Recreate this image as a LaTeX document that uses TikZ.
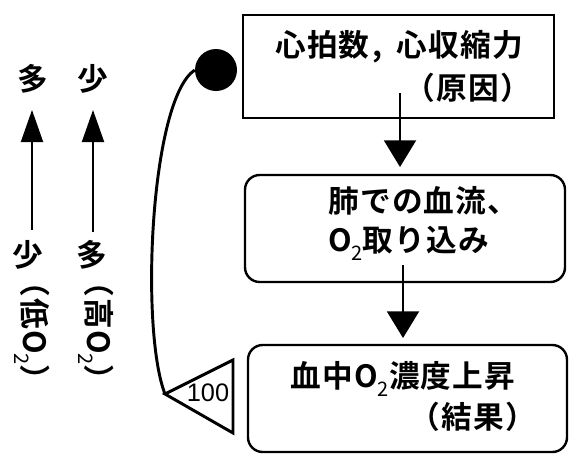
\documentclass[tikz,border=0pt]{standalone}
\usepackage{fontspec}
\newfontfamily\jp{Noto Sans CJK JP}[BoldFont={Noto Sans CJK JP Bold}, LetterSpace=4]
\newfontfamily\arialf{Liberation Sans}
\usetikzlibrary{arrows.meta}
\newcommand\otwo{O\raisebox{-0.3em}{\fontsize{15}{15}\selectfont\mdseries 2}}
\begin{document}
\begin{tikzpicture}[x=0.75pt,y=-0.75pt,
  txt/.style={font=\jp\bfseries\fontsize{23}{27}\selectfont, inner sep=0pt, text height=0.8em, text depth=0.1em},
  sqbox/.style={draw, line width=1.8pt, inner sep=0pt},
  rbox/.style={draw, line width=1.8pt, inner sep=0pt, rounded corners=11pt},
  flowarrow/.style={line width=1.5pt, -{Triangle[length=20pt,width=24pt]}},
  sidearrow/.style={line width=1.5pt, -{Triangle[length=24pt,width=16.5pt]}},
  fb/.style={line width=2.2pt},
]
\useasboundingbox (0,0) rectangle (577,465);
% boxes
\node[sqbox, minimum width=233.25pt, minimum height=77.25pt] (cause) at (398.5,66.5) {};
\node[rbox, minimum width=240pt, minimum height=80.25pt] (lung) at (405,228.5) {};
\node[rbox, minimum width=239.25pt, minimum height=80.25pt] (result) at (407.5,398.5) {};
% texts
\node[txt] (t1) at (399,52) {心拍数\hspace{0.1em},\hspace{0.45em}心収縮力};
\node[txt] (t2) at (468,95) {（原因）};
\node[txt, anchor=west] (m1) at (328,208) {肺での血流、};
\node[txt, anchor=west] (m2) at (328,247) {\otwo 取り込み};
\node[txt] (b1) at (403,383) {血中\otwo 濃度上昇};
\node[txt] (b2) at (473,424) {（結果）};
% flow arrows
\coordinate (a1s) at (400,93);
\coordinate (a1e) at (400,167);
\coordinate (a2s) at (403,265);
\coordinate (a2e) at (403,338);
\draw[flowarrow] (a1s) -- (a1e);
\draw[flowarrow] (a2s) -- (a2e);
% feedback loop
\node[circle, fill, inner sep=0pt, minimum size=31.5pt] (dot) at (216,70) {};
\coordinate (tip) at (165,394);
\coordinate (tr1) at (233,360);
\coordinate (tr2) at (233,433);
\draw[fb, line join=miter] (tip) -- (tr1) -- (tr2) -- cycle;
\node[font=\arialf\fontsize{19}{22}\selectfont, inner sep=0pt] (hundred) at (208,393) {100};
\draw[fb] (dot.west) .. controls (150,100) and (140,330) .. (tip);
% side labels
\node[txt] (hiA) at (33,86) {多};
\node[txt] (hiB) at (93,86) {少};
\node[txt] (loA) at (28,262) {少};
\node[txt] (loB) at (92,262) {多};
\node[txt, rotate=-90] (loA2) at (28,331) {（低\otwo）};
\node[txt, rotate=-90] (loB2) at (92,331) {（高\otwo）};
\coordinate (s1s) at (32,230);
\coordinate (s1e) at (32,110);
\coordinate (s2s) at (93,232);
\coordinate (s2e) at (93,110);
\draw[sidearrow] (s1s) -- (s1e);
\draw[sidearrow] (s2s) -- (s2e);
\end{tikzpicture}
\end{document}
